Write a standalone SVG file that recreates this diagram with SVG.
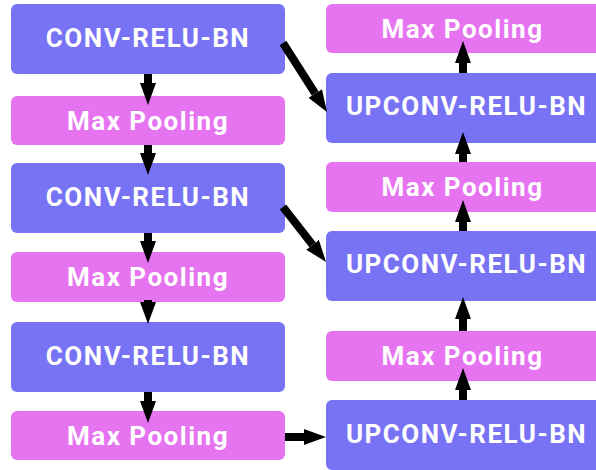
<svg xmlns="http://www.w3.org/2000/svg" width="596" height="470" viewBox="0 0 596 470">
<style>
.conv{fill:#7873F4;}
.pool{fill:#E674F1;}
.lbl{font-family:Roboto,"Liberation Sans",sans-serif;font-weight:bold;font-size:26px;letter-spacing:1.5px;fill:#ffffff;text-anchor:middle;}
.arr{stroke:#000;stroke-width:8;fill:none;marker-end:url(#ah);}
</style>
<defs>
<marker id="ah" markerUnits="userSpaceOnUse" viewBox="0 0 22 16" markerWidth="22" markerHeight="16" refX="0" refY="8" orient="auto">
<path d="M0,0 L22,8 L0,16 z" fill="#000"/>
</marker>
</defs>
<rect width="596" height="470" fill="#ffffff"/>
<g id="conv1"><rect class="conv" x="11" y="4" width="274" height="70" rx="6"/><text class="lbl" x="148" y="47">CONV-RELU-BN</text></g>
<g id="pool1"><rect class="pool" x="11" y="96" width="274" height="49" rx="6"/><text class="lbl" x="148" y="130">Max Pooling</text></g>
<g id="conv2"><rect class="conv" x="11" y="163" width="274" height="70" rx="6"/><text class="lbl" x="148" y="206">CONV-RELU-BN</text></g>
<g id="pool2"><rect class="pool" x="11" y="252" width="274" height="50" rx="6"/><text class="lbl" x="148" y="286">Max Pooling</text></g>
<g id="conv3"><rect class="conv" x="11" y="322" width="274" height="70" rx="6"/><text class="lbl" x="148" y="365">CONV-RELU-BN</text></g>
<g id="pool3"><rect class="pool" x="11" y="411" width="274" height="49" rx="6"/><text class="lbl" x="148" y="445">Max Pooling</text></g>
<g id="rpool1"><rect class="pool" x="326" y="4" width="300" height="49" rx="6"/><text class="lbl" x="462.5" y="38">Max Pooling</text></g>
<g id="upconv1"><rect class="conv" x="326" y="73" width="300" height="70" rx="6"/><text class="lbl" x="466.5" y="115">UPCONV-RELU-BN</text></g>
<g id="rpool2"><rect class="pool" x="326" y="162" width="300" height="50" rx="6"/><text class="lbl" x="462.5" y="196">Max Pooling</text></g>
<g id="upconv2"><rect class="conv" x="326" y="231" width="300" height="70" rx="6"/><text class="lbl" x="466.5" y="273">UPCONV-RELU-BN</text></g>
<g id="rpool3"><rect class="pool" x="326" y="331" width="300" height="50" rx="6"/><text class="lbl" x="462.5" y="365">Max Pooling</text></g>
<g id="upconv3"><rect class="conv" x="326" y="400" width="300" height="70" rx="6"/><text class="lbl" x="466.5" y="443">UPCONV-RELU-BN</text></g>
<g id="connectors">
<line class="arr" x1="148" y1="74" x2="148" y2="83"/>
<line class="arr" x1="148" y1="145" x2="148" y2="153"/>
<line class="arr" x1="148" y1="233" x2="148" y2="241"/>
<line class="arr" x1="148" y1="300" x2="148" y2="302"/>
<line class="arr" x1="148" y1="392" x2="148" y2="401"/>
<line class="arr" x1="285" y1="437" x2="304" y2="437"/>
<line class="arr" x1="283" y1="43" x2="315.2" y2="93.5"/>
<line class="arr" x1="283" y1="207" x2="312.5" y2="244.7"/>
<line class="arr" x1="463" y1="73" x2="463" y2="63"/>
<line class="arr" x1="463" y1="162" x2="463" y2="154"/>
<line class="arr" x1="463" y1="231" x2="463" y2="222"/>
<line class="arr" x1="463" y1="331" x2="463" y2="319"/>
<line class="arr" x1="463" y1="400" x2="463" y2="390"/>
</g>
</svg>
